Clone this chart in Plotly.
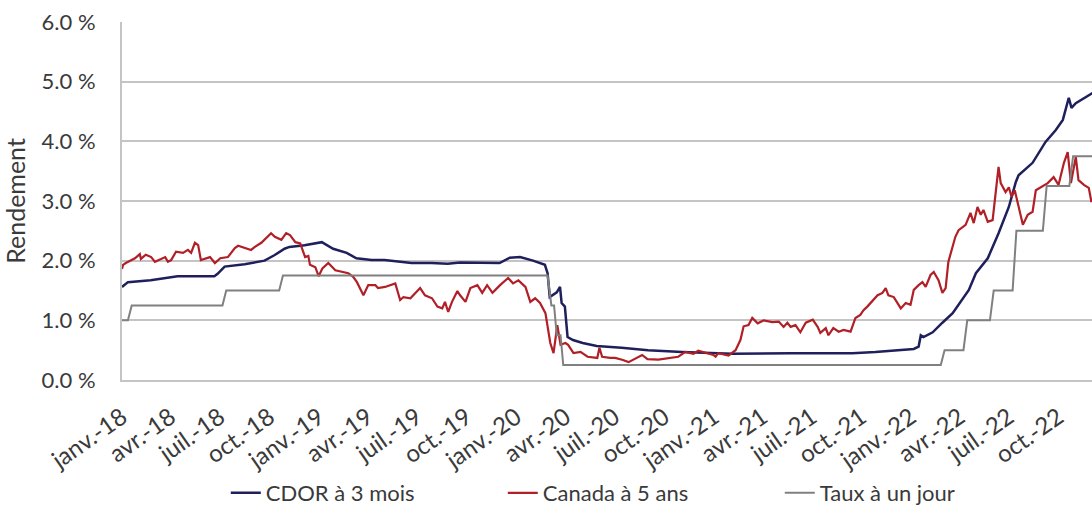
import plotly.graph_objects as go

# ---------------- data ----------------
tick_dates = ["2018-01-01", "2018-04-01", "2018-07-01", "2018-10-01",
              "2019-01-01", "2019-04-01", "2019-07-01", "2019-10-01",
              "2020-01-01", "2020-04-01", "2020-07-01", "2020-10-01",
              "2021-01-01", "2021-04-01", "2021-07-01", "2021-10-01",
              "2022-01-01", "2022-04-01", "2022-07-01", "2022-10-01"]
tick_labels = ["janv.-18", "avr.-18", "juil.-18", "oct.-18",
               "janv.-19", "avr.-19", "juil.-19", "oct.-19",
               "janv.-20", "avr.-20", "juil.-20", "oct.-20",
               "janv.-21", "avr.-21", "juil.-21", "oct.-21",
               "janv.-22", "avr.-22", "juil.-22", "oct.-22"]

cdor_dates = ["2018-01-01", "2018-01-12", "2018-02-23", "2018-03-26", "2018-04-14",
              "2018-06-21", "2018-06-27", "2018-07-10", "2018-08-16", "2018-09-22",
              "2018-10-10", "2018-10-29", "2018-11-07", "2018-12-05", "2019-01-06",
              "2019-01-27", "2019-02-21", "2019-03-11", "2019-04-08", "2019-05-02",
              "2019-06-21", "2019-07-28", "2019-08-27", "2019-09-19", "2019-12-01",
              "2019-12-20", "2020-01-08", "2020-02-01", "2020-02-23", "2020-02-28",
              "2020-03-03", "2020-03-16", "2020-03-22", "2020-03-25", "2020-03-31",
              "2020-04-05", "2020-04-15", "2020-05-03", "2020-05-29", "2020-07-14",
              "2020-09-01", "2020-11-03", "2021-01-04", "2021-02-04", "2021-05-23",
              "2021-09-14", "2021-10-27", "2021-12-03", "2022-01-06", "2022-01-15",
              "2022-01-19", "2022-01-24", "2022-02-10", "2022-02-28", "2022-03-19",
              "2022-04-18", "2022-05-01", "2022-05-23", "2022-06-12", "2022-07-01",
              "2022-07-14", "2022-07-19", "2022-08-14", "2022-09-07", "2022-09-26",
              "2022-10-09", "2022-10-20", "2022-10-25", "2022-11-02", "2022-12-03"]
cdor_values = [1.56, 1.64, 1.67, 1.72, 1.74,
               1.74, 1.78, 1.90, 1.94, 2.00,
               2.09, 2.20, 2.23, 2.26, 2.31,
               2.20, 2.13, 2.04, 2.01, 2.01,
               1.96, 1.96, 1.95, 1.97, 1.96,
               2.05, 2.06, 2.00, 1.93, 1.79,
               1.39, 1.47, 1.56, 1.29, 1.23,
               0.72, 0.67, 0.62, 0.57, 0.54,
               0.50, 0.47, 0.45, 0.44, 0.45,
               0.45, 0.47, 0.49, 0.52, 0.56,
               0.75, 0.72, 0.80, 0.96, 1.12,
               1.51, 1.79, 2.04, 2.46, 2.90,
               3.32, 3.43, 3.64, 3.99, 4.19,
               4.36, 4.73, 4.56, 4.64, 4.81]

can5_dates = ["2018-01-01", "2018-01-03", "2018-01-08", "2018-01-25", "2018-02-03",
              "2018-02-05", "2018-02-14", "2018-02-24", "2018-03-03", "2018-03-14",
              "2018-03-22", "2018-03-27", "2018-04-02", "2018-04-11", "2018-04-24",
              "2018-05-03", "2018-05-09", "2018-05-16", "2018-05-22", "2018-05-27",
              "2018-06-13", "2018-06-22", "2018-07-02", "2018-07-16", "2018-07-29",
              "2018-08-04", "2018-08-17", "2018-08-28", "2018-09-04", "2018-09-16",
              "2018-10-04", "2018-10-11", "2018-10-23", "2018-11-01", "2018-11-08",
              "2018-11-18", "2018-11-27", "2018-12-02", "2018-12-06", "2018-12-12",
              "2018-12-15", "2018-12-25", "2018-12-31", "2019-01-07", "2019-01-18",
              "2019-01-31", "2019-02-13", "2019-02-24", "2019-03-05", "2019-03-12",
              "2019-03-24", "2019-04-02", "2019-04-15", "2019-04-20", "2019-05-03",
              "2019-05-22", "2019-05-31", "2019-06-06", "2019-06-19", "2019-06-24",
              "2019-07-07", "2019-07-16", "2019-07-29", "2019-08-08", "2019-08-17",
              "2019-08-22", "2019-08-28", "2019-09-04", "2019-09-14", "2019-09-19",
              "2019-09-29", "2019-10-08", "2019-10-21", "2019-10-30", "2019-11-08",
              "2019-11-18", "2019-12-02", "2019-12-17", "2019-12-26", "2020-01-05",
              "2020-01-18", "2020-01-27", "2020-02-05", "2020-02-14", "2020-02-24",
              "2020-03-04", "2020-03-10", "2020-03-17", "2020-03-23", "2020-04-01",
              "2020-04-06", "2020-04-16", "2020-04-29", "2020-05-12", "2020-05-30",
              "2020-06-03", "2020-06-08", "2020-06-23", "2020-07-02", "2020-07-15",
              "2020-07-27", "2020-08-21", "2020-08-31", "2020-09-20", "2020-10-09",
              "2020-10-27", "2020-11-09", "2020-11-24", "2020-12-03", "2020-12-20",
              "2020-12-31", "2021-01-04", "2021-01-09", "2021-01-28", "2021-02-10",
              "2021-02-19", "2021-02-25", "2021-03-06", "2021-03-13", "2021-03-23",
              "2021-04-03", "2021-04-19", "2021-05-01", "2021-05-10", "2021-05-17",
              "2021-05-23", "2021-06-01", "2021-06-10", "2021-06-20", "2021-07-03",
              "2021-07-12", "2021-07-17", "2021-07-27", "2021-08-01", "2021-08-10",
              "2021-08-20", "2021-08-29", "2021-09-11", "2021-09-20", "2021-09-29",
              "2021-10-05", "2021-10-12", "2021-10-22", "2021-10-31", "2021-11-09",
              "2021-11-15", "2021-11-20", "2021-11-30", "2021-12-13", "2021-12-22",
              "2021-12-31", "2022-01-06", "2022-01-15", "2022-01-22", "2022-01-28",
              "2022-02-06", "2022-02-12", "2022-02-21", "2022-02-28", "2022-03-06",
              "2022-03-11", "2022-03-19", "2022-03-24", "2022-03-30", "2022-04-12",
              "2022-04-21", "2022-04-27", "2022-05-04", "2022-05-10", "2022-05-15",
              "2022-05-23", "2022-06-01", "2022-06-07", "2022-06-12", "2022-06-16",
              "2022-06-25", "2022-07-01", "2022-07-06", "2022-07-12", "2022-07-19",
              "2022-07-27", "2022-08-05", "2022-08-14", "2022-08-20", "2022-08-29",
              "2022-09-11", "2022-09-22", "2022-10-01", "2022-10-11", "2022-10-18",
              "2022-10-24", "2022-11-02", "2022-11-07", "2022-11-17", "2022-11-26",
              "2022-12-01"]
can5_values = [1.86, 1.93, 1.96, 2.04, 2.11,
               2.03, 2.10, 2.06, 1.98, 2.03,
               2.06, 1.98, 2.01, 2.15, 2.13,
               2.18, 2.13, 2.30, 2.26, 2.01,
               2.06, 1.96, 2.04, 2.06, 2.21,
               2.25, 2.21, 2.18, 2.23, 2.30,
               2.46, 2.40, 2.35, 2.46, 2.43,
               2.31, 2.29, 2.15, 2.06, 2.08,
               1.93, 1.89, 1.74, 1.87, 1.96,
               1.84, 1.81, 1.79, 1.73, 1.64,
               1.42, 1.59, 1.59, 1.54, 1.56,
               1.62, 1.34, 1.39, 1.37, 1.42,
               1.54, 1.42, 1.37, 1.23, 1.20,
               1.31, 1.14, 1.31, 1.49, 1.42,
               1.31, 1.54, 1.59, 1.46, 1.59,
               1.46, 1.59, 1.71, 1.62, 1.67,
               1.56, 1.31, 1.37, 1.29, 1.12,
               0.62, 0.45, 0.92, 0.59, 0.62,
               0.59, 0.45, 0.47, 0.39, 0.37,
               0.54, 0.39, 0.37, 0.37, 0.34,
               0.30, 0.42, 0.35, 0.34, 0.37,
               0.39, 0.47, 0.44, 0.49, 0.44,
               0.42, 0.39, 0.45, 0.41, 0.50,
               0.67, 0.90, 0.92, 1.04, 0.95,
               1.00, 0.97, 0.98, 0.89, 0.96,
               0.89, 0.92, 0.80, 0.96, 1.01,
               0.89, 0.79, 0.87, 0.75, 0.87,
               0.81, 0.84, 0.81, 1.04, 1.09,
               1.17, 1.23, 1.34, 1.42, 1.46,
               1.54, 1.42, 1.39, 1.20, 1.29,
               1.26, 1.51, 1.59, 1.64, 1.56,
               1.76, 1.81, 1.67, 1.46, 1.54,
               1.98, 2.23, 2.40, 2.51, 2.60,
               2.80, 2.63, 2.90, 2.77, 2.85,
               2.65, 2.68, 3.18, 3.57, 3.30,
               3.15, 3.23, 3.07, 3.18, 2.90,
               2.60, 2.77, 2.82, 3.18, 3.23,
               3.30, 3.40, 3.27, 3.64, 3.82,
               3.30, 3.74, 3.35, 3.27, 3.22,
               2.98]

overnight_dates = ["2018-01-01", "2018-01-12", "2018-01-19", "2018-07-06", "2018-07-13",
                   "2018-10-19", "2018-10-26", "2020-02-28", "2020-03-06", "2020-03-11",
                   "2020-03-16", "2020-03-23", "2020-03-28", "2022-02-25", "2022-03-04",
                   "2022-04-08", "2022-04-15", "2022-05-27", "2022-06-03", "2022-07-08",
                   "2022-07-15", "2022-09-02", "2022-09-09", "2022-10-21", "2022-10-28",
                   "2022-12-02"]
overnight_values = [1.00, 1.00, 1.25, 1.25, 1.50,
                    1.50, 1.75, 1.75, 1.25, 1.25,
                    0.75, 0.75, 0.25, 0.25, 0.50,
                    0.50, 1.00, 1.00, 1.50, 1.50,
                    2.50, 2.50, 3.25, 3.25, 3.75,
                    3.75]

# ---------------- figure ----------------
FONT = "Lato, 'Open Sans', sans-serif"
TXT = "#3a3a3a"
GRID = "#c4c4c4"

fig = go.Figure()
fig.add_trace(go.Scatter(x=cdor_dates, y=cdor_values, mode="lines", name="CDOR à 3 mois",
                         line=dict(color="#1f1f5c", width=2.5)))
fig.add_trace(go.Scatter(x=can5_dates, y=can5_values, mode="lines", name="Canada à 5 ans",
                         line=dict(color="#b11f27", width=2.2)))
fig.add_trace(go.Scatter(x=overnight_dates, y=overnight_values, mode="lines", name="Taux à un jour",
                         line=dict(color="#808080", width=2)))

fig.update_layout(
    width=1092, height=505,
    margin=dict(l=122, r=0, t=22, b=125, autoexpand=False),
    plot_bgcolor="white", paper_bgcolor="white",
    font=dict(family=FONT, size=22, color=TXT),
    showlegend=True,
    legend=dict(orientation="h", x=0.107, xanchor="left", y=-0.257, yanchor="top",
                font=dict(size=22, color=TXT), entrywidthmode="pixels", entrywidth=232,
                bgcolor="rgba(0,0,0,0)"),
    xaxis=dict(type="date", range=["2018-01-01", "2022-12-02"], automargin=False,
               tickmode="array", tickvals=tick_dates, ticktext=tick_labels,
               tickangle=-35, showgrid=False, ticks="", showline=True,
               linecolor=GRID, linewidth=2, zeroline=False,
               tickfont=dict(size=24, color=TXT), ticklabelstandoff=12),
    yaxis=dict(range=[0, 6], dtick=1, tickformat=".1f", ticksuffix=" %", automargin=False,
               showgrid=True, gridcolor=GRID, gridwidth=1.5, zeroline=False,
               showline=True, linecolor=GRID, linewidth=2, ticks="",
               tickfont=dict(size=22, color=TXT), ticklabelstandoff=20,
               title=dict(text="Rendement", font=dict(size=25, color=TXT), standoff=12)),
)

fig.write_html("out.html", config={"displayModeBar": False},
               post_script="document.body.style.margin='0';document.body.style.overflow='hidden';")
